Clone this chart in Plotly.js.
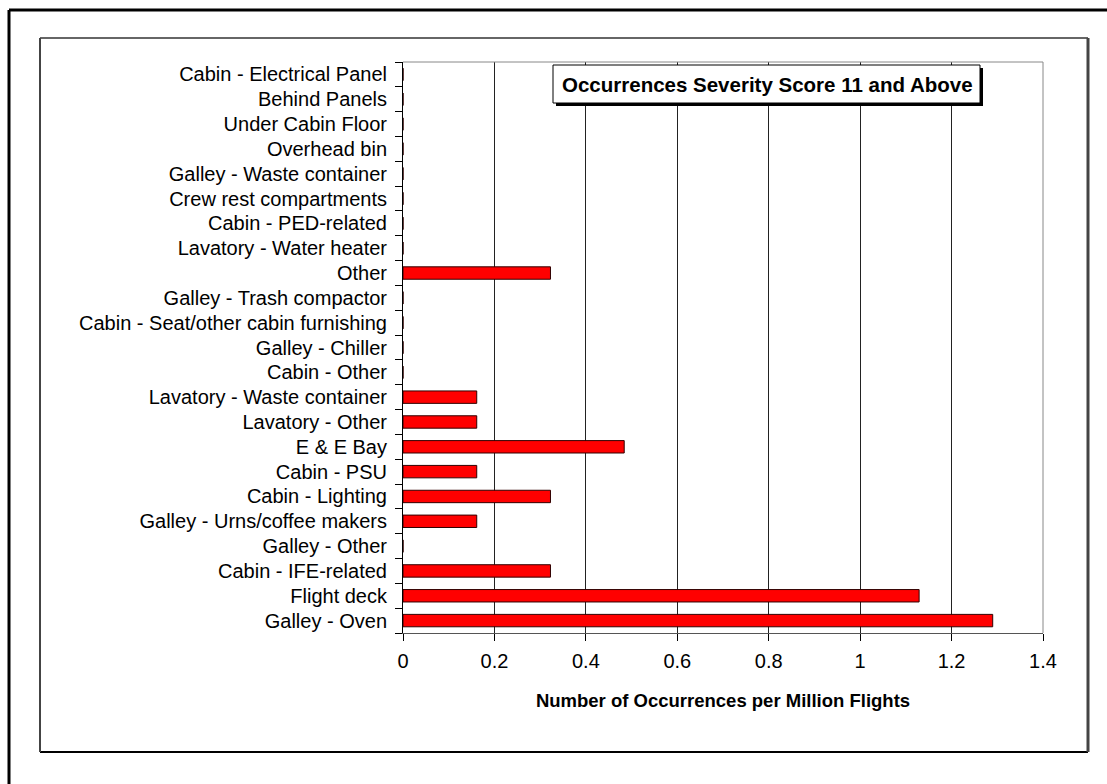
<!DOCTYPE html>
<html>
<head>
<meta charset="utf-8">
<script src="https://cdn.plot.ly/plotly-3.0.1.min.js"></script>
<style>html,body{margin:0;padding:0;background:#fff;}#chart{width:1107px;height:784px;}</style>
</head>
<body>
<div id="chart"></div>
<script>
// Categories listed bottom to top
const categories = [
  "Galley - Oven",
  "Flight deck",
  "Cabin - IFE-related",
  "Galley - Other",
  "Galley - Urns/coffee makers",
  "Cabin - Lighting",
  "Cabin - PSU",
  "E & E Bay",
  "Lavatory - Other",
  "Lavatory - Waste container",
  "Cabin - Other",
  "Galley - Chiller",
  "Cabin - Seat/other cabin furnishing",
  "Galley - Trash compactor",
  "Other",
  "Lavatory - Water heater",
  "Cabin - PED-related",
  "Crew rest compartments",
  "Galley - Waste container",
  "Overhead bin",
  "Under Cabin Floor",
  "Behind Panels",
  "Cabin - Electrical Panel"
];
const occurrencesPerMillion = [
  1.290, 1.129, 0.3226, 0, 0.1613, 0.3226, 0.1613, 0.4839, 0.1613, 0.1613,
  0, 0, 0, 0, 0.3226, 0, 0, 0, 0, 0, 0, 0, 0
];
const xTickValues = [0, 0.2, 0.4, 0.6, 0.8, 1, 1.2, 1.4];
const chartTitle = "Occurrences Severity Score 11 and Above";
const xTitle = "Number of Occurrences per Million Flights";

const W = 1107, H = 784;
const L = 403, R = 1043, T = 62, B = 633;
const px = x => (x - L) / (R - L);
const py = y => (B - y) / (B - T);

const font = "Liberation Sans, Arial, sans-serif";

const trace = {
  type: "bar",
  orientation: "h",
  y: categories,
  x: occurrencesPerMillion,
  marker: { color: "#FF0000", line: { color: "#300000", width: 1 } },
  hoverinfo: "x+y"
};

function rect(x0, y0, x1, y1, opts) {
  return Object.assign({ type: "rect", xref: "paper", yref: "paper",
    x0: px(x0), x1: px(x1), y0: py(y0), y1: py(y1) }, opts);
}
function line(x0, y0, x1, y1, color, width) {
  return { type: "line", xref: "paper", yref: "paper",
    x0: px(x0), x1: px(x1), y0: py(y0), y1: py(y1),
    line: { color: color, width: width } };
}

const layout = {
  width: W, height: H,
  margin: { l: L, r: W - R, t: T, b: H - B, pad: 0 },
  paper_bgcolor: "#fff", plot_bgcolor: "#fff",
  showlegend: false,
  bargap: 0.5,
  font: { family: font, size: 20, color: "#000" },
  xaxis: {
    range: [0, 1.4], tickvals: xTickValues, ticktext: xTickValues.map(String),
    showgrid: true, gridcolor: "#222", gridwidth: 1,
    zeroline: false, showline: true, linecolor: "#555", linewidth: 1,
    ticks: "outside", ticklen: 7, tickcolor: "#000", tickwidth: 1,
    tickfont: { family: font, size: 20, color: "#000" },
    ticklabelstandoff: 3,
    title: { text: "<b>" + xTitle + "</b>", font: { family: font, size: 18.5, color: "#000" }, standoff: 23 },
    fixedrange: true
  },
  yaxis: {
    type: "category", categoryorder: "array", categoryarray: categories,
    tickmode: "linear", tick0: 0, dtick: 1,
    tickson: "boundaries", ticks: "outside", ticklen: 7, tickcolor: "#000", tickwidth: 1,
    showgrid: false, zeroline: false, showline: true, linecolor: "#000", linewidth: 1,
    tickfont: { family: font, size: 20, color: "#000" },
    ticklabelstandoff: 11,
    fixedrange: true
  },
  shapes: [
    // outer frame
    line(9, 10, 1120, 10, "#000", 3),
    line(9, 10, 9, 800, "#000", 3),
    // inner frame
    line(40, 38, 1088, 38, "#333", 1.5),
    line(40, 752, 1088, 752, "#000", 2),
    line(40, 38, 40, 752, "#444", 2),
    line(1088, 38, 1088, 752, "#444", 3),
    // plot border top/right
    line(403, 62, 1043, 62, "#888", 1),
    line(1043, 62, 1043, 633, "#888", 1),
    // title box shadow and box
    rect(556, 68, 983, 106, { fillcolor: "#000", line: { width: 0 } }),
    rect(553, 65, 980, 103, { fillcolor: "#fff", line: { color: "#000", width: 1 } })
  ],
  annotations: [{
    xref: "paper", yref: "paper", x: px(767), y: py(84),
    xanchor: "center", yanchor: "middle", showarrow: false,
    text: "<b>" + chartTitle + "</b>",
    font: { family: font, size: 20.5, color: "#000" }
  }]
};

Plotly.newPlot("chart", [trace], layout, { displayModeBar: false, staticPlot: true });
</script>
</body>
</html>
